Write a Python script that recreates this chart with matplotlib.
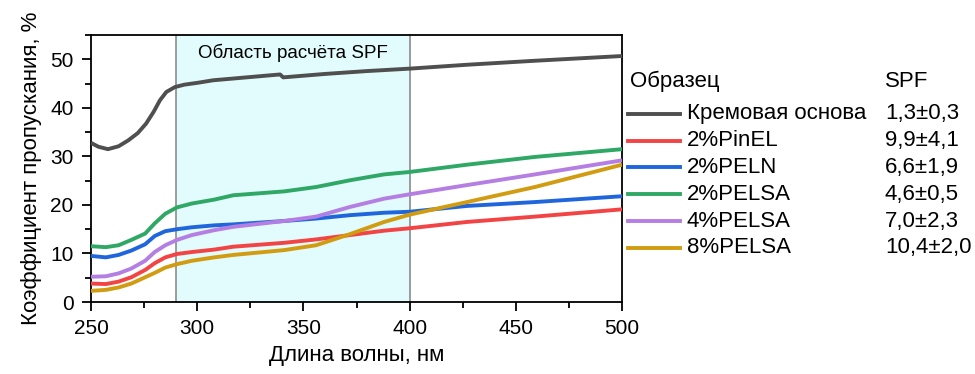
import numpy as np
import matplotlib
matplotlib.use("Agg")
import matplotlib.pyplot as plt
from matplotlib.ticker import MultipleLocator
from matplotlib.lines import Line2D

plt.rcParams["font.family"] = ["Liberation Sans", "DejaVu Sans"]

# ---------------------------------------------------------------------------
# Данные
# ---------------------------------------------------------------------------
wl_base = [250, 253.5, 258, 263, 267.5, 272, 276, 279.5, 282.5, 285.5, 289.5,
           294, 300.5, 307.5, 339, 340.5, 360, 380, 400, 427, 458, 500]
t_base = [32.8, 32.0, 31.5, 32.1, 33.3, 34.8, 36.8, 39.2, 41.6, 43.3, 44.3,
          44.8, 45.2, 45.7, 46.9, 46.3, 47.0, 47.6, 48.1, 48.9, 49.7, 50.7]

wl = [250, 257, 263, 269, 275.5, 280, 285, 290.5, 297.5, 308, 317, 341, 356,
      372, 388, 400, 427, 459, 500]
t_pinel = [3.8, 3.7, 4.2, 5.1, 6.6, 8.0, 9.2, 9.9, 10.3, 10.8, 11.4, 12.2,
           12.9, 13.8, 14.7, 15.2, 16.5, 17.6, 19.1]
t_peln = [9.5, 9.2, 9.7, 10.6, 11.9, 13.6, 14.6, 15.0, 15.4, 15.8, 16.0, 16.7,
          17.2, 17.9, 18.4, 18.6, 19.8, 20.6, 21.8]
t_pelsa2 = [11.5, 11.3, 11.7, 12.8, 14.1, 16.2, 18.2, 19.5, 20.3, 21.1, 22.0,
            22.8, 23.7, 25.1, 26.3, 26.8, 28.3, 29.9, 31.5]
t_pelsa4 = [5.2, 5.3, 5.9, 6.9, 8.5, 10.3, 11.7, 12.8, 13.8, 14.8, 15.5, 16.7,
            17.6, 19.6, 21.3, 22.2, 24.1, 26.3, 29.2]
t_pelsa8 = [2.3, 2.5, 3.0, 3.8, 5.1, 6.0, 7.1, 7.8, 8.5, 9.2, 9.7, 10.7, 11.7,
            14.0, 16.5, 18.0, 20.6, 23.7, 28.3]

names = ["Кремовая основа", "2%PinEL", "2%PELN", "2%PELSA", "4%PELSA", "8%PELSA"]
spf = ["1,3±0,3", "9,9±4,1", "6,6±1,9", "4,6±0,5", "7,0±2,3", "10,4±2,0"]
colors = ["#4f4f4f", "#f24444", "#1f66dc", "#2fa866", "#b47ee2", "#d19c12"]

spf_lo, spf_hi = 290, 400

# ---------------------------------------------------------------------------
# Рисунок
# ---------------------------------------------------------------------------
fig = plt.figure(figsize=(9.75, 3.74), dpi=100)
ax = fig.add_axes([0.0933, 0.1925, 0.5447, 0.7135])

ax.axvspan(spf_lo, spf_hi, color="#e2fbfc", zorder=0)
ax.axvline(spf_lo, color="#8c8c8c", lw=1.2, zorder=1)
ax.axvline(spf_hi, color="#8c8c8c", lw=1.2, zorder=1)
ax.text((spf_lo + spf_hi) / 2, 51.4, "Область расчёта SPF", ha="center",
        va="center", fontsize=13.5)

series = [(wl_base, t_base)] + [(wl, s) for s in
                                [t_pinel, t_peln, t_pelsa2, t_pelsa4, t_pelsa8]]
for (x, y), c in zip(series, colors):
    ax.plot(x, y, color=c, lw=2.8, solid_capstyle="butt",
            solid_joinstyle="round", zorder=3)

ax.set_xlim(250, 500)
ax.set_ylim(0, 55)
ax.xaxis.set_major_locator(MultipleLocator(50))
ax.xaxis.set_minor_locator(MultipleLocator(25))
ax.yaxis.set_major_locator(MultipleLocator(10))
ax.yaxis.set_minor_locator(MultipleLocator(5))
ax.tick_params(which="both", direction="out", top=False, right=False,
               labelsize=15, width=1.3, pad=6)
ax.tick_params(which="major", length=6.5)
ax.tick_params(which="minor", length=4)
for sp in ax.spines.values():
    sp.set_linewidth(1.3)
ax.set_xlabel("Длина волны, нм", fontsize=16, labelpad=5)
ax.set_ylabel("Коэффициент пропускания, %", fontsize=16, labelpad=6)

# Легенда вручную: две колонки
x_line0, x_line1, x_name, x_spf = 1.011, 1.109, 1.122, 1.495
y_head, y_first, dy = 0.826, 0.705, 0.1004
ax.text(1.015, y_head, "Образец", transform=ax.transAxes, fontsize=16,
        va="center", ha="left")
ax.text(x_spf, y_head, "SPF", transform=ax.transAxes, fontsize=16,
        va="center", ha="left")
for i, (nm, v, c) in enumerate(zip(names, spf, colors)):
    yy = y_first - i * dy
    ax.add_line(Line2D([x_line0, x_line1], [yy, yy], transform=ax.transAxes,
                       color=c, lw=2.8, clip_on=False))
    ax.text(x_name, yy, nm, transform=ax.transAxes, fontsize=16,
            va="center", ha="left")
    ax.text(x_spf, yy, v, transform=ax.transAxes, fontsize=16,
            va="center", ha="left")

fig.savefig("out.png", dpi=100)
